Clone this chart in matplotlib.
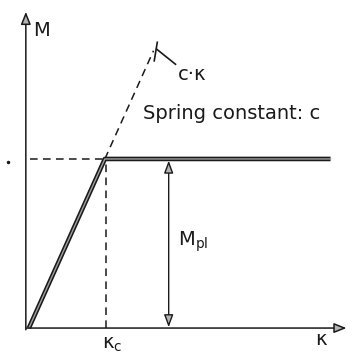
import numpy as np
import matplotlib
matplotlib.use("Agg")
from matplotlib import pyplot as plt

# Modelo elastico-perfeitamente plastico (momento x curvatura)
kappa_c = 1.0        # curvatura no inicio da plastificacao
M_pl = 1.0           # momento plastico
kappa_end = 3.97     # fim do patamar plastico
kappa_ext = 1.68     # ate onde vai o prolongamento elastico c*kappa
kappa_arrow = 1.84   # posicao da cota de M_pl
kappa_axis = 4.18    # comprimento do eixo kappa
M_axis = 1.87        # comprimento do eixo M

labels = {"M": "M", "kappa": "\u03ba", "kc": "\u03ba$_\\mathrm{c}$",
          "mpl": "M$_\\mathrm{pl}$", "ck": "c\u00b7\u03ba",
          "spring": "Spring constant: c"}

fig = plt.figure(figsize=(3.48, 3.59), dpi=100)
ax = fig.add_axes([0, 0, 1, 1])
ax.set_xlim(-0.38, 4.20)
ax.set_ylim(-0.183, 1.94)
ax.axis("off")

ink = "#1a1a1a"
gray = "#b4b4b4"
axis_arrow = dict(arrowstyle="-|>,head_length=0.75,head_width=0.3",
                  color=ink, lw=1.1, shrinkA=0, shrinkB=0, fc=gray)

# Eixos com setas
ax.annotate("", xy=(-0.04, M_axis), xytext=(-0.04, -0.01), arrowprops=axis_arrow)
ax.annotate("", xy=(kappa_axis, 0), xytext=(-0.04, 0), arrowprops=axis_arrow)

# Linhas auxiliares tracejadas
dash = dict(color=ink, lw=1.1, dashes=(5, 3.5))
ax.plot([0.02, kappa_c], [M_pl, M_pl], **dash)
ax.plot([kappa_c + 0.02, kappa_c + 0.02], [0, M_pl], **dash)
ax.plot([kappa_c, kappa_ext - 0.04], [M_pl, kappa_ext - 0.04], **dash)

# Ponta solida e chamada para c*kappa
ax.plot([kappa_ext - 0.03, kappa_ext + 0.01], [kappa_ext - 0.1, kappa_ext + 0.01], color=ink, lw=1.2)
ax.plot([kappa_ext, kappa_ext + 0.25], [kappa_ext - 0.03, kappa_ext - 0.12], color=ink, lw=1.2)

# Curva M-kappa (traco duplo)
curve_k = [0, kappa_c, kappa_end]
curve_m = [0, M_pl, M_pl]
ax.plot(curve_k, curve_m, color=ink, lw=3.3, solid_joinstyle="round", solid_capstyle="butt")
ax.plot(curve_k, curve_m, color="#a0a0a0", lw=1.0, solid_joinstyle="round")

# Cota de M_pl
ax.annotate("", xy=(kappa_arrow, M_pl - 0.01), xytext=(kappa_arrow, 0.005),
            arrowprops=dict(arrowstyle="<|-|>,head_length=0.75,head_width=0.28",
                            color=ink, lw=1.0, shrinkA=0, shrinkB=0, fc=gray))

# Textos
fs = 14
ax.text(0.06, 1.76, labels["M"], fontsize=fs, color=ink, va="center", ha="left")
ax.text(3.84, -0.065, labels["kappa"], fontsize=fs, color=ink, va="center", ha="center")
ax.text(kappa_c + 0.1, -0.1, labels["kc"], fontsize=fs, color=ink, va="center", ha="center")
ax.text(1.96, 0.51, labels["mpl"], fontsize=fs, color=ink, va="center", ha="left")
ax.text(1.96, 1.5, labels["ck"], fontsize=fs, color=ink, va="center", ha="left")
ax.text(1.5, 1.27, labels["spring"], fontsize=fs, color=ink, va="center", ha="left")

# Pontos soltos
ax.plot([-0.28], [0.98], marker="o", ms=1.5, color=ink)

fig.savefig("out.png", dpi=100)
